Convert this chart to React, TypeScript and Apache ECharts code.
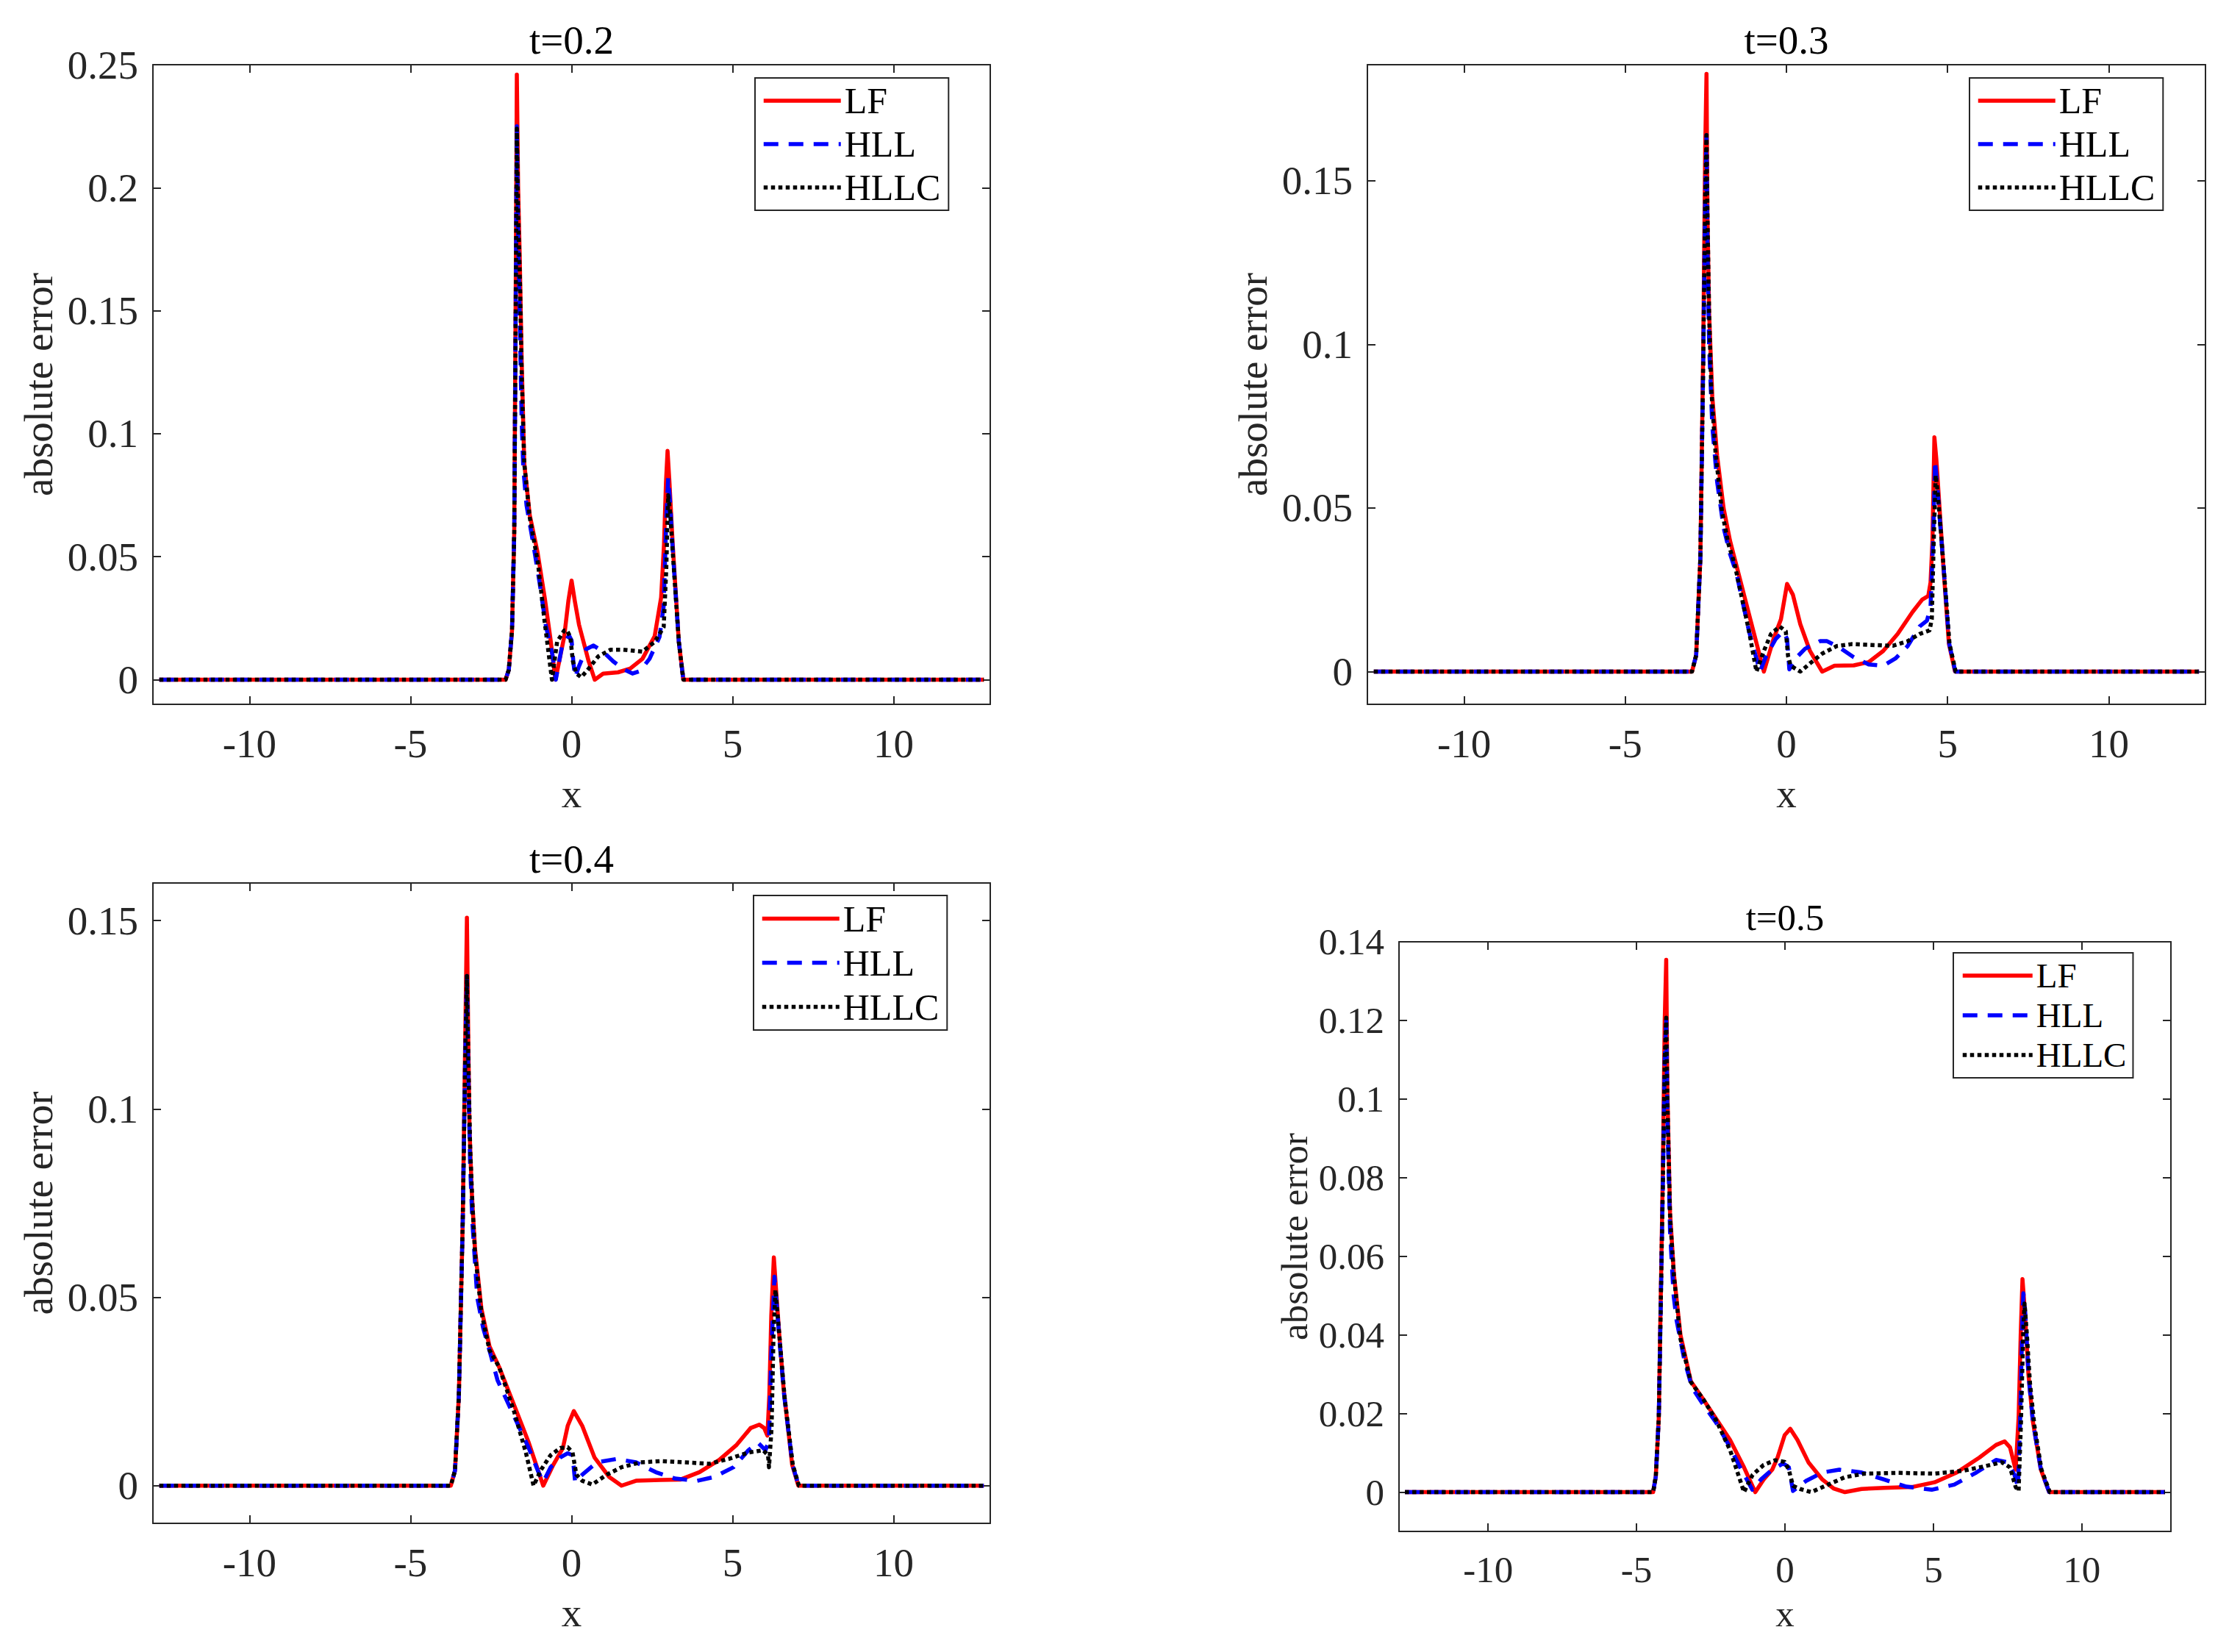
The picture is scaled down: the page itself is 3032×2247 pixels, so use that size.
import React, { useEffect, useRef } from 'react';
import * as echarts from 'echarts';

// ---------- data ----------
const seriesNames = ['LF', 'HLL', 'HLLC'];
const titles = ['t=0.2', 't=0.3', 't=0.4', 't=0.5'];
const xTicks = [-10, -5, 0, 5, 10];
const xRange = [-13, 13];
const yMin = -0.01;
const yMaxs = [0.25, 0.1855, 0.16, 0.14];
const yTicks02 = [0, 0.05, 0.1, 0.15, 0.2, 0.25];
const yTicks03 = [0, 0.05, 0.1, 0.15];
const yTicks04 = [0, 0.05, 0.1, 0.15];
const yTicks05 = [0, 0.02, 0.04, 0.06, 0.08, 0.1, 0.12, 0.14];

// t = 0.2
const lf02 = [[-12.8,0],[-2.05,0],[-1.95,0.004],[-1.85,0.02],[-1.78,0.06],[-1.73,0.17],[-1.70,0.246],[-1.66,0.2],[-1.61,0.172],[-1.55,0.13],[-1.47,0.088],[-1.3,0.067],[-1.06,0.052],[-0.83,0.033],[-0.66,0.017],[-0.5,0],[-0.23,0.0174],[-0.1,0.032],[0,0.0403],[0.1,0.032],[0.23,0.0224],[0.53,0.0075],[0.72,0],[0.98,0.0025],[1.44,0.003],[1.82,0.0045],[2.2,0.0085],[2.58,0.0177],[2.78,0.0334],[2.87,0.055],[2.93,0.08],[2.98,0.093],[3.04,0.08],[3.14,0.055],[3.33,0.0154],[3.47,0],[12.8,0]];
const hll02 = [[-12.8,0],[-2.05,0],[-1.95,0.004],[-1.85,0.02],[-1.78,0.06],[-1.73,0.16],[-1.70,0.225],[-1.66,0.18],[-1.6,0.14],[-1.55,0.105],[-1.5,0.086],[-1.4,0.071],[-1.2,0.056],[-1.0,0.04],[-0.8,0.022],[-0.6,0.0105],[-0.49,0],[-0.3,0.0134],[-0.08,0.018],[0.0,0.016],[0.06,0.0065],[0.11,0.001],[0.23,0.0055],[0.45,0.0124],[0.68,0.0139],[0.98,0.0114],[1.29,0.0075],[1.59,0.0045],[1.89,0.0025],[2.12,0.0035],[2.42,0.0085],[2.73,0.0174],[2.86,0.03],[2.94,0.065],[3.0,0.082],[3.06,0.072],[3.14,0.053],[3.33,0.0154],[3.47,0],[12.8,0]];
const hllc02 = [[-12.8,0],[-2.05,0],[-1.95,0.004],[-1.85,0.02],[-1.78,0.06],[-1.73,0.16],[-1.70,0.224],[-1.66,0.19],[-1.6,0.16],[-1.55,0.125],[-1.47,0.088],[-1.3,0.066],[-1.05,0.048],[-0.85,0.025],[-0.61,0],[-0.45,0.0154],[-0.23,0.02],[-0.15,0.0202],[-0.04,0.0174],[0.04,0.0075],[0.15,0.0025],[0.3,0.001],[0.53,0.0045],[0.83,0.0095],[1.21,0.0122],[1.59,0.0122],[2.2,0.0114],[2.58,0.0154],[2.86,0.0214],[2.94,0.045],[3.0,0.075],[3.06,0.068],[3.14,0.052],[3.33,0.0154],[3.47,0],[12.8,0]];

// t = 0.3
const lf03 = [[-12.8,0],[-2.93,0],[-2.8,0.005],[-2.67,0.0347],[-2.58,0.1],[-2.52,0.16],[-2.48,0.1827],[-2.45,0.14],[-2.4,0.11],[-2.3,0.084],[-2.15,0.066],[-1.95,0.05],[-1.75,0.04],[-1.61,0.0347],[-1.16,0.0175],[-0.7,0],[-0.4,0.01],[-0.17,0.016],[0.02,0.0268],[0.2,0.0235],[0.43,0.0145],[0.73,0.0063],[1.11,0],[1.49,0.0018],[2.09,0.0019],[2.55,0.0029],[3.0,0.0063],[3.45,0.0115],[3.91,0.0182],[4.21,0.022],[4.4,0.0231],[4.47,0.0272],[4.53,0.04],[4.59,0.0716],[4.65,0.065],[4.75,0.05],[4.87,0.032],[5.04,0.0085],[5.23,0],[12.8,0]];
const hll03 = [[-12.8,0],[-2.93,0],[-2.8,0.005],[-2.67,0.0347],[-2.58,0.095],[-2.52,0.145],[-2.48,0.164],[-2.45,0.13],[-2.4,0.1],[-2.3,0.075],[-2.15,0.058],[-1.95,0.044],[-1.75,0.036],[-1.55,0.03],[-1.16,0.0123],[-0.82,0],[-0.63,0.0048],[-0.33,0.01],[-0.1,0.0123],[0.02,0.01],[0.09,0.0007],[0.28,0.004],[0.58,0.007],[1.04,0.0093],[1.26,0.0093],[1.64,0.0074],[2.09,0.0044],[2.55,0.0022],[3.0,0.0018],[3.38,0.004],[3.76,0.0078],[4.13,0.0138],[4.36,0.0156],[4.47,0.0197],[4.55,0.04],[4.61,0.0645],[4.67,0.058],[4.77,0.045],[4.89,0.03],[5.05,0.0085],[5.24,0],[12.8,0]];
const hllc03 = [[-12.8,0],[-2.93,0],[-2.8,0.005],[-2.67,0.0347],[-2.58,0.095],[-2.52,0.145],[-2.48,0.164],[-2.45,0.14],[-2.4,0.11],[-2.33,0.086],[-2.2,0.067],[-2.0,0.049],[-1.8,0.039],[-1.61,0.033],[-1.16,0.0123],[-0.93,0],[-0.7,0.0063],[-0.48,0.0115],[-0.21,0.0138],[-0.02,0.0123],[0.05,0.0048],[0.13,0.0018],[0.43,0],[0.73,0.0025],[1.11,0.0055],[1.56,0.0078],[2.02,0.0084],[2.77,0.0081],[3.3,0.0079],[3.76,0.0093],[4.13,0.0115],[4.44,0.0126],[4.51,0.016],[4.57,0.04],[4.63,0.06],[4.69,0.055],[4.79,0.043],[4.9,0.029],[5.06,0.0085],[5.25,0],[12.8,0]];

// t = 0.4
const lf04 = [[-12.8,0],[-3.75,0],[-3.62,0.004],[-3.5,0.024],[-3.38,0.07],[-3.3,0.12],[-3.25,0.1508],[-3.21,0.12],[-3.17,0.095],[-3.1,0.078],[-3.0,0.063],[-2.8,0.047],[-2.55,0.037],[-2.25,0.0315],[-1.8,0.0217],[-1.33,0.0114],[-0.88,0],[-0.57,0.0055],[-0.27,0.01],[-0.12,0.0159],[0.07,0.0198],[0.33,0.0159],[0.71,0.0075],[1.17,0.0023],[1.55,0],[2.0,0.0013],[2.76,0.0015],[3.37,0.0016],[3.97,0.0036],[4.58,0.0068],[5.11,0.0107],[5.56,0.0153],[5.83,0.0162],[5.98,0.0153],[6.08,0.0133],[6.14,0.024],[6.2,0.045],[6.28,0.0606],[6.35,0.052],[6.45,0.04],[6.58,0.026],[6.85,0.0055],[7.04,0],[12.8,0]];
const hll04 = [[-12.8,0],[-3.75,0],[-3.62,0.004],[-3.5,0.024],[-3.38,0.07],[-3.3,0.115],[-3.25,0.1353],[-3.21,0.11],[-3.15,0.085],[-3.08,0.07],[-2.93,0.05],[-2.75,0.042],[-2.52,0.035],[-2.3,0.028],[-1.79,0.0185],[-1.33,0.01],[-1.03,0.0036],[-0.88,0.001],[-0.65,0.0049],[-0.35,0.0075],[-0.12,0.0086],[0.03,0.0081],[0.11,0.001],[0.33,0.0029],[0.79,0.0062],[1.4,0.0071],[2.0,0.0062],[2.61,0.0036],[3.21,0.0019],[3.9,0.0013],[4.43,0.0023],[5.03,0.0049],[5.49,0.0094],[5.79,0.0114],[6.02,0.0094],[6.13,0.012],[6.2,0.035],[6.3,0.0555],[6.37,0.048],[6.47,0.037],[6.6,0.024],[6.86,0.0055],[7.05,0],[12.8,0]];
const hllc04 = [[-12.8,0],[-3.75,0],[-3.62,0.004],[-3.5,0.024],[-3.38,0.07],[-3.3,0.115],[-3.25,0.1353],[-3.21,0.115],[-3.15,0.09],[-3.08,0.075],[-3.0,0.062],[-2.8,0.046],[-2.55,0.036],[-2.25,0.0315],[-1.79,0.0198],[-1.42,0.0088],[-1.18,0],[-0.95,0.0042],[-0.65,0.0081],[-0.35,0.01],[-0.12,0.0102],[0.03,0.0088],[0.15,0.0029],[0.33,0.0013],[0.64,0.0003],[1.09,0.0029],[1.55,0.0049],[2.15,0.0062],[2.76,0.0065],[3.52,0.0062],[4.27,0.0058],[4.88,0.0071],[5.49,0.0088],[5.95,0.0094],[6.1,0.0081],[6.13,0.0049],[6.21,0.0153],[6.27,0.04],[6.33,0.052],[6.4,0.045],[6.5,0.035],[6.62,0.023],[6.87,0.0055],[7.06,0],[12.8,0]];

// t = 0.5
const lf05 = [[-12.8,0],[-4.44,0],[-4.35,0.004],[-4.25,0.019],[-4.12,0.0786],[-4.05,0.12],[-4.0,0.1354],[-3.96,0.102],[-3.87,0.071],[-3.74,0.0554],[-3.52,0.04],[-3.17,0.0282],[-2.75,0.0236],[-2.4,0.0196],[-1.85,0.0133],[-1.38,0.0063],[-1.0,0],[-0.72,0.0032],[-0.43,0.0057],[-0.25,0.0088],[-0.01,0.0145],[0.18,0.0161],[0.42,0.0133],[0.79,0.0076],[1.26,0.0032],[1.64,0.0009],[2.02,0],[2.58,0.0008],[3.34,0.0011],[4.28,0.0013],[5.04,0.0025],[5.79,0.005],[6.55,0.0088],[7.11,0.012],[7.4,0.0129],[7.58,0.0114],[7.77,0.0057],[7.87,0.019],[7.94,0.04],[8.0,0.0542],[8.08,0.046],[8.2,0.03],[8.35,0.018],[8.62,0.0057],[8.9,0],[12.8,0]];
const hll05 = [[-12.8,0],[-4.44,0],[-4.35,0.004],[-4.25,0.019],[-4.12,0.075],[-4.05,0.11],[-4.0,0.1207],[-3.96,0.095],[-3.87,0.066],[-3.75,0.05],[-3.65,0.0437],[-3.39,0.0336],[-3.13,0.0266],[-2.79,0.0227],[-2.32,0.0177],[-1.85,0.0114],[-1.47,0.0057],[-1.19,0.0019],[-1.1,0.0006],[-0.81,0.0032],[-0.43,0.0057],[-0.06,0.0073],[0.13,0.0063],[0.27,0.0003],[0.7,0.0028],[1.26,0.005],[1.83,0.0057],[2.58,0.005],[3.34,0.0032],[4.09,0.0014],[4.94,0.0006],[5.7,0.0019],[6.45,0.005],[7.11,0.0082],[7.49,0.0076],[7.73,0.0044],[7.85,0.0013],[7.92,0.018],[8.0,0.045],[8.03,0.0506],[8.1,0.045],[8.2,0.03],[8.35,0.018],[8.62,0.0057],[8.9,0],[12.8,0]];
const hllc05 = [[-12.8,0],[-4.44,0],[-4.35,0.004],[-4.25,0.019],[-4.12,0.075],[-4.05,0.11],[-4.0,0.1207],[-3.96,0.1],[-3.87,0.07],[-3.74,0.055],[-3.52,0.039],[-3.17,0.028],[-2.75,0.0236],[-2.32,0.0183],[-1.85,0.0107],[-1.57,0.0044],[-1.38,0],[-1.09,0.0044],[-0.72,0.0069],[-0.34,0.0081],[-0.01,0.0077],[0.13,0.0057],[0.27,0.0016],[0.51,0.0008],[0.89,0],[1.45,0.0019],[2.02,0.0038],[2.68,0.0047],[3.81,0.0049],[5.04,0.0047],[5.98,0.0054],[6.74,0.0066],[7.3,0.0076],[7.58,0.0063],[7.77,0.0013],[7.87,0.0003],[7.95,0.018],[8.03,0.042],[8.07,0.048],[8.15,0.04],[8.25,0.028],[8.4,0.017],[8.64,0.0057],[8.92,0],[12.8,0]];

const panelSeries = [
  [lf02, hll02, hllc02],
  [lf03, hll03, hllc03],
  [lf04, hll04, hllc04],
  [lf05, hll05, hllc05],
];
const panelYTicks = [yTicks02, yTicks03, yTicks04, yTicks05];

// ---------- layout / styles ----------
const FONT = '"Liberation Serif", "Times New Roman", Times, serif';
const AXIS_COLOR = '#262626';
const seriesColors = ['#ff0000', '#0000ff', '#000000'];
const seriesDash: any[] = ['solid', [20, 14], [5.5, 4.5]];
const LINE_W = 5.5;

const layouts = [
  { left: 208, top: 88, width: 1139, height: 870, font: 55, titleY: 54, ylabX: 52, xlabY: 1079,
    legend: { left: 1027, top: 106, padding: [5, 11, 5, 9], gap: 7, lh: 52, iw: 105, fs: 50 } },
  { left: 1860, top: 88, width: 1140, height: 870, font: 55, titleY: 54, ylabX: 1704, xlabY: 1079,
    legend: { left: 2679, top: 106, padding: [5, 11, 5, 9], gap: 7, lh: 52, iw: 105, fs: 50 } },
  { left: 208, top: 1201, width: 1139, height: 871, font: 55, titleY: 1168, ylabX: 52, xlabY: 2193,
    legend: { left: 1025, top: 1218, padding: [5, 11, 5, 9], gap: 7, lh: 53, iw: 105, fs: 50 } },
  { left: 1903, top: 1281, width: 1050, height: 802, font: 51, titleY: 1248, ylabX: 1761, xlabY: 2195,
    legend: { left: 2657, top: 1296, padding: [7, 9, 7, 10], gap: 6, lh: 48, iw: 95, fs: 47 } },
];

const fmt = (v: number) => String(Math.round(v * 10000) / 10000);

function buildOption() {
  const grid: any[] = [];
  const xAxis: any[] = [];
  const yAxis: any[] = [];
  const series: any[] = [];
  const legend: any[] = [];
  const graphic: any[] = [];

  layouts.forEach((L, i) => {
    grid.push({ left: L.left, top: L.top, width: L.width, height: L.height, containLabel: false });
    const axisLine = { show: true, onZero: false, lineStyle: { color: AXIS_COLOR, width: 2 } };
    const tick = (vals: number[]) => ({ show: true, inside: true, length: 11, customValues: vals, lineStyle: { color: AXIS_COLOR, width: 2 } });
    const labelStyle = { fontSize: L.font, fontFamily: FONT, color: AXIS_COLOR };
    const yt = panelYTicks[i];

    xAxis.push({
      type: 'value', gridIndex: i, position: 'bottom', min: xRange[0], max: xRange[1],
      axisLine, axisTick: tick(xTicks), splitLine: { show: false },
      axisLabel: { ...labelStyle, customValues: xTicks, margin: 26, formatter: fmt },
    });
    xAxis.push({
      type: 'value', gridIndex: i, position: 'top', min: xRange[0], max: xRange[1],
      axisLine, axisTick: tick(xTicks), splitLine: { show: false }, axisLabel: { show: false },
    });
    yAxis.push({
      type: 'value', gridIndex: i, position: 'left', min: yMin, max: yMaxs[i],
      axisLine, axisTick: tick(yt), splitLine: { show: false },
      axisLabel: { ...labelStyle, customValues: yt, margin: 20, formatter: fmt },
    });
    yAxis.push({
      type: 'value', gridIndex: i, position: 'right', min: yMin, max: yMaxs[i],
      axisLine, axisTick: tick(yt), splitLine: { show: false }, axisLabel: { show: false },
    });

    seriesNames.forEach((name, k) => {
      series.push({
        type: 'line', name, xAxisIndex: 2 * i, yAxisIndex: 2 * i,
        data: panelSeries[i][k], symbol: 'none', showSymbol: false, silent: true,
        smooth: false,
        color: seriesColors[k], z: 2 + k,
        lineStyle: { color: seriesColors[k], width: LINE_W, type: seriesDash[k], cap: 'butt', join: 'round' },
      });
    });

    const lg = L.legend;
    legend.push({
      data: seriesNames, orient: 'vertical', left: lg.left, top: lg.top, padding: lg.padding,
      itemGap: lg.gap, itemWidth: lg.iw, itemHeight: 14, itemTextGap: 6,
      backgroundColor: '#ffffff', borderColor: AXIS_COLOR, borderWidth: 2, borderRadius: 0,
      selectedMode: false,
      itemStyle: { opacity: 0, borderWidth: 0 },
      lineStyle: { width: LINE_W, type: 'inherit' },
      textStyle: { fontSize: lg.fs, lineHeight: lg.lh, fontFamily: FONT, color: '#000' },
    });

    const cx = L.left + L.width / 2;
    const cy = L.top + L.height / 2;
    graphic.push({
      type: 'text', x: cx, y: L.titleY, silent: true,
      style: { text: titles[i], fontSize: L.font, fontFamily: FONT, fill: '#000', align: 'center', verticalAlign: 'middle' },
    });
    graphic.push({
      type: 'text', x: cx, y: L.xlabY, silent: true,
      style: { text: 'x', fontSize: L.font, fontFamily: FONT, fill: AXIS_COLOR, align: 'center', verticalAlign: 'middle' },
    });
    graphic.push({
      type: 'text', x: L.ylabX, y: cy, rotation: Math.PI / 2, silent: true,
      style: { text: 'absolute error', fontSize: L.font, fontFamily: FONT, fill: AXIS_COLOR, align: 'center', verticalAlign: 'middle' },
    });
  });

  return {
    animation: false,
    backgroundColor: '#ffffff',
    textStyle: { fontFamily: FONT },
    grid, xAxis, yAxis, series, legend, graphic,
  };
}

export default function App() {
  const ref = useRef<HTMLDivElement>(null);
  useEffect(() => {
    if (!ref.current) return;
    const chart = echarts.init(ref.current, null, { renderer: 'svg' });
    chart.setOption(buildOption() as any);
    return () => chart.dispose();
  }, []);
  return (
    <div
      ref={ref}
      style={{ position: 'absolute', left: 0, top: 0, width: 3032, height: 2247, background: '#ffffff' }}
    />
  );
}
